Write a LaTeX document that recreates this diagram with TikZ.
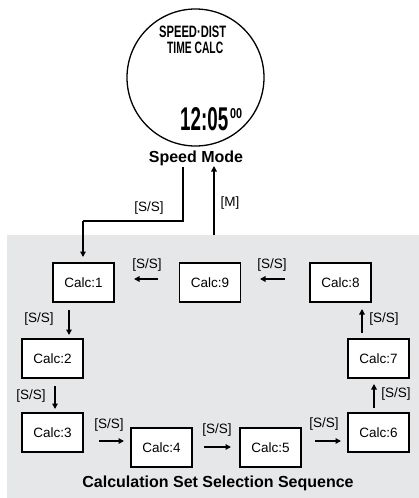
\documentclass[tikz,border=0pt]{standalone}
\usepackage{fontspec}
\setmainfont{Liberation Sans}
\usepackage{graphicx}
\usetikzlibrary{arrows.meta}
\definecolor{bggray}{RGB}{230,231,232}
\begin{document}
\begin{tikzpicture}[x=1pt,y=-1pt,
  calcbox/.style={draw=black,line width=1.1pt,fill=white,minimum width=61pt,minimum height=39pt,inner sep=0pt,font=\fontsize{13.5}{15}\selectfont},
  lbl/.style={inner sep=0pt,font=\fontsize{13.5}{15}\selectfont},
  bold/.style={inner sep=0pt,font=\fontsize{16}{18}\selectfont\bfseries},
  arr/.style={line width=1.8pt,-{Triangle[length=5.5pt,width=5.5pt]}},
  lcd/.style={inner sep=0pt,font=\fontsize{14}{16}\selectfont\bfseries}]
\useasboundingbox (0,0) rectangle (419,498);
\fill[bggray] (7,235) rectangle (419,498);
% watch
\node[draw=black,line width=1.3pt,circle,minimum size=137pt,inner sep=0pt] (watch) at (195.5,77.5) {};
\node[lcd,anchor=north west] (l1) at (159,26) {\resizebox{67pt}{11.5pt}{SPEED·DIST}};
\node[lcd,anchor=north west] (l2) at (167,42) {\resizebox{56pt}{11.5pt}{TIME CALC}};
\node[lcd,anchor=north west] (clock) at (180,107) {\resizebox{48pt}{23pt}{12:05}};
\node[lcd,anchor=north west] (secs) at (230,108) {\resizebox{12pt}{10pt}{00}};
\node[bold] (mode) at (196,158) {Speed Mode};
% boxes
\node[calcbox] (c1) at (83.5,282.5) {Calc:1};
\node[calcbox] (c9) at (210,282.5) {Calc:9};
\node[calcbox] (c8) at (340.5,282.5) {Calc:8};
\node[calcbox] (c2) at (52.5,358.5) {Calc:2};
\node[calcbox] (c3) at (52.5,432.5) {Calc:3};
\node[calcbox] (c4) at (161.5,447.5) {Calc:4};
\node[calcbox] (c5) at (270.5,447.5) {Calc:5};
\node[calcbox] (c6) at (378.5,432.5) {Calc:6};
\node[calcbox] (c7) at (378.5,358.5) {Calc:7};
\node[bold] (title) at (218,483) {Calculation Set Selection Sequence};
% connector coordinates
\coordinate (m0) at (183,167);
\coordinate (m1) at (183,221);
\coordinate (m2) at (83,221);
\coordinate (m3) at (83,257);
\coordinate (u0) at (214,235);
\coordinate (u1) at (214,166);
\draw[line width=1.8pt] (m0) -- (m1) -- (m2);
\draw[arr] (m2) -- (m3);
\draw[arr] (u0) -- (u1);
\node[lbl] (lss0) at (149,208) {[S/S]};
\node[lbl] (lm) at (230,203.5) {[M]};
% arrows row 1
\coordinate (a98s) at (285,279); \coordinate (a98e) at (260,279);
\coordinate (a91s) at (158,279); \coordinate (a91e) at (134,279);
\draw[arr] (a98s) -- (a98e);
\draw[arr] (a91s) -- (a91e);
\node[lbl] (l98) at (272,265) {[S/S]};
\node[lbl] (l91) at (147,265) {[S/S]};
% left column
\coordinate (a12s) at (69,310); \coordinate (a12e) at (69,335);
\coordinate (a23s) at (55,386); \coordinate (a23e) at (55,409);
\draw[arr] (a12s) -- (a12e);
\draw[arr] (a23s) -- (a23e);
\node[lbl] (l12) at (39,319) {[S/S]};
\node[lbl] (l23) at (31,396) {[S/S]};
% bottom row
\coordinate (a34s) at (99,441); \coordinate (a34e) at (124,441);
\coordinate (a45s) at (204,447); \coordinate (a45e) at (231,447);
\coordinate (a56s) at (315,441); \coordinate (a56e) at (341,441);
\draw[arr] (a34s) -- (a34e);
\draw[arr] (a45s) -- (a45e);
\draw[arr] (a56s) -- (a56e);
\node[lbl] (l34) at (109,425) {[S/S]};
\node[lbl] (l45) at (217,430) {[S/S]};
\node[lbl] (l56) at (324,424) {[S/S]};
% right column
\coordinate (a67s) at (374,408); \coordinate (a67e) at (374,384);
\coordinate (a78s) at (362,333); \coordinate (a78e) at (362,309);
\draw[arr] (a67s) -- (a67e);
\draw[arr] (a78s) -- (a78e);
\node[lbl] (l67) at (396,394) {[S/S]};
\node[lbl] (l78) at (384,319) {[S/S]};
\end{tikzpicture}
\end{document}
